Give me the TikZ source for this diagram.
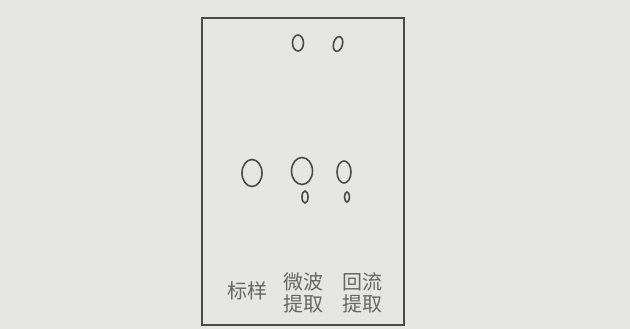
\documentclass[tikz,border=0pt]{standalone}
\usepackage{fontspec}
\newfontfamily\cjk{Noto Sans CJK SC}
\usetikzlibrary{shapes.geometric}
\definecolor{bg}{HTML}{E6E6E4}
\definecolor{ink}{HTML}{4A4A4A}
\definecolor{txt}{HTML}{666666}
\tikzset{
  spot/.style={ellipse, draw=ink, line width=1.6pt, inner sep=0pt},
  lab/.style={text=txt, font=\cjk\fontsize{20}{22}\selectfont, align=center, inner sep=0pt}
}
\begin{document}
\begin{tikzpicture}[x=1pt,y=-1pt]
\fill[bg] (0,0) rectangle (630,329);
\useasboundingbox (0,0) rectangle (630,329);
\draw[ink, line width=1.2pt] (202,18) rectangle (404,325);
% top spots
\node[spot, minimum width=11pt, minimum height=16pt] (mtop) at (298,43) {};
\node[spot, minimum width=9pt, minimum height=15pt, rotate=-15] (rtop) at (338,44) {};
% middle spots
\node[spot, minimum width=20pt, minimum height=27pt] (std) at (252,173) {};
\node[spot, minimum width=21pt, minimum height=27pt] (mmid) at (302,171) {};
\node[spot, minimum width=14pt, minimum height=22pt] (rmid) at (344,172) {};
% small spots
\node[spot, minimum width=6pt, minimum height=12pt] (msm) at (305,197) {};
\node[spot, minimum width=5pt, minimum height=10pt] (rsm) at (347,197) {};
% labels
\node[lab] (l1) at (247,291) {标样};
\node[lab] (l2) at (303,293) {微波\\提取};
\node[lab] (l3) at (362,293) {回流\\提取};
\end{tikzpicture}
\end{document}
